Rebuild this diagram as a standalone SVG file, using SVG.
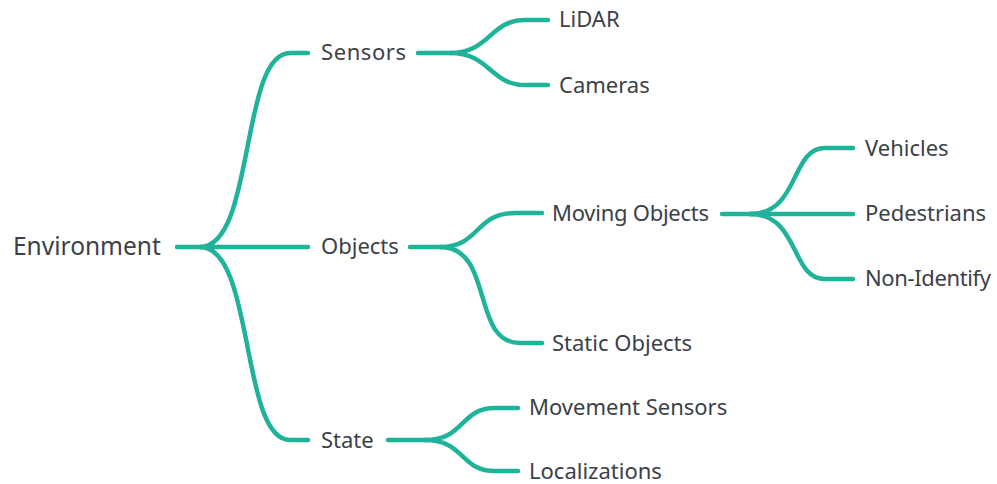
<svg xmlns="http://www.w3.org/2000/svg" width="997" height="484" viewBox="0 0 997 484">
  <style>
    .edge { fill: none; stroke: #1fb39a; stroke-width: 4.5; stroke-linecap: round; }
    .lbl { font-family: "Noto Sans", "DejaVu Sans", sans-serif; font-size: 22px; fill: #3b4149; dominant-baseline: central; }
    .root { font-size: 24.5px; }
  </style>
  <rect width="997" height="484" fill="#ffffff"/>

  <g id="connectors">
    <!-- root fan-out -->
    <path class="edge" d="M177,247 L200,247"/>
    <path class="edge" d="M200,247 C255,247 240,53 290,53 L308,53"/>
    <path class="edge" d="M200,247 L308,247"/>
    <path class="edge" d="M200,247 C255,247 240,440 290,440 L308,440"/>
    <!-- Sensors -->
    <path class="edge" d="M418,53 L450,53"/>
    <path class="edge" d="M450,53 C490,53 490,20 525,20 L548,20"/>
    <path class="edge" d="M450,53 C490,53 490,85 525,85 L548,85"/>
    <!-- Objects -->
    <path class="edge" d="M410,247 L440,247"/>
    <path class="edge" d="M440,247 C480,247 475,213 515,213 L542,213"/>
    <path class="edge" d="M440,247 C495,247 470,343 520,343 L542,343"/>
    <!-- Moving Objects -->
    <path class="edge" d="M722,214 L750,214"/>
    <path class="edge" d="M750,214 C800,214 790,148 825,148 L853,148"/>
    <path class="edge" d="M750,214 L853,214"/>
    <path class="edge" d="M750,214 C800,214 790,279 825,279 L853,279"/>
    <!-- State -->
    <path class="edge" d="M388,440 L425,440"/>
    <path class="edge" d="M425,440 C465,440 460,408 495,408 L518,408"/>
    <path class="edge" d="M425,440 C465,440 460,471 495,471 L518,471"/>
  </g>

  <g id="environment"><text class="lbl root" x="13" y="245">Environment</text></g>
  <g id="sensors"><text class="lbl" x="321" y="51" textLength="85">Sensors</text></g>
  <g id="lidar"><text class="lbl" x="559" y="18">LiDAR</text></g>
  <g id="cameras"><text class="lbl" x="559" y="84">Cameras</text></g>
  <g id="objects"><text class="lbl" x="321" y="245">Objects</text></g>
  <g id="moving-objects"><text class="lbl" x="552" y="212" textLength="157">Moving Objects</text></g>
  <g id="static-objects"><text class="lbl" x="552" y="342">Static Objects</text></g>
  <g id="vehicles"><text class="lbl" x="865" y="147">Vehicles</text></g>
  <g id="pedestrians"><text class="lbl" x="865" y="212" textLength="121">Pedestrians</text></g>
  <g id="non-identify"><text class="lbl" x="865" y="277" textLength="126">Non-Identify</text></g>
  <g id="state"><text class="lbl" x="321" y="439">State</text></g>
  <g id="movement-sensors"><text class="lbl" x="529" y="406">Movement Sensors</text></g>
  <g id="localizations"><text class="lbl" x="529" y="470">Localizations</text></g>
</svg>
